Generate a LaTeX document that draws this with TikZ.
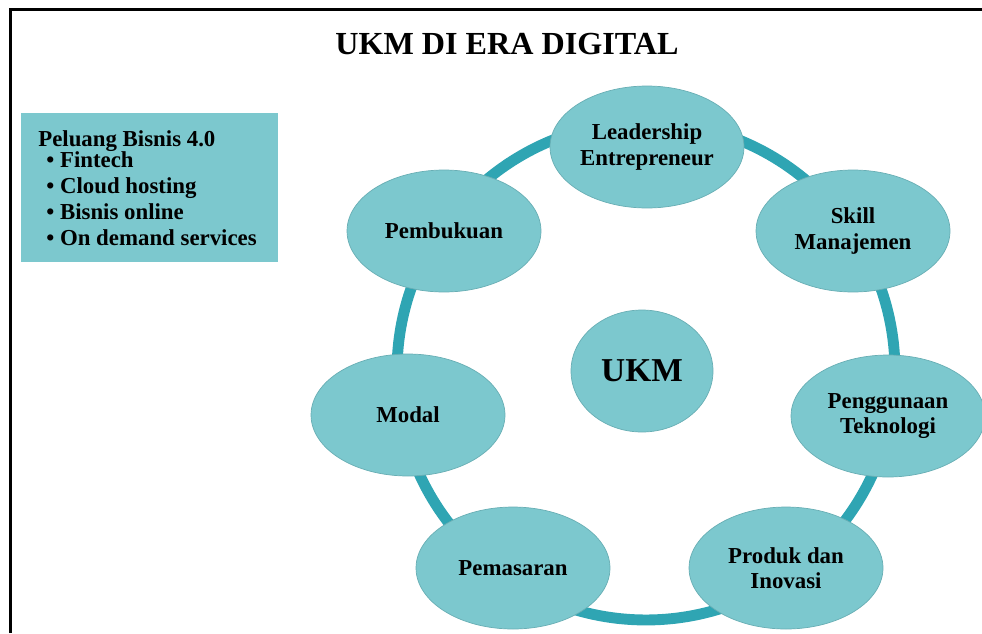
\documentclass[tikz,border=0pt]{standalone}
\usepackage{fontspec}
\setmainfont{Liberation Serif}
\usetikzlibrary{shapes.geometric}
\definecolor{ukmTeal}{HTML}{7CC8CE}
\definecolor{ukmRing}{HTML}{2FA5B3}
\definecolor{ukmEdge}{HTML}{68AEB4}
\tikzset{
  bubble/.style={ellipse, fill=ukmTeal, draw=ukmEdge, line width=0.4pt,
    minimum width=3.88cm, minimum height=2.44cm, inner sep=0pt, align=center,
    font=\fontsize{13}{14.4}\selectfont\bfseries},
  ring/.style={line width=6.2pt, ukmRing},
  frame/.style={line width=1.7pt, black},
  ttl/.style={font=\fontsize{18.3}{22}\selectfont\bfseries},
  lst/.style={anchor=base west, inner sep=0pt, font=\fontsize{13}{15}\selectfont\bfseries},
}

\begin{document}
\begin{tikzpicture}[x=0.02cm, y=-0.02cm]
  \useasboundingbox (0,0) rectangle (982,633);
  \draw[frame] (10.5,633) -- (10.5,9.5) -- (982,9.5);
  \node[ttl] (title) at (507,44) {UKM DI ERA DIGITAL};

  \node[fill=ukmTeal, minimum width=5.14cm, minimum height=2.98cm] (peluang) at (149.5,187.5) {};
  \node[lst] (head) at (38,146) {Peluang Bisnis 4.0};
  \foreach \txt/\yy [count=\i] in {Fintech/167, Cloud hosting/193, Bisnis online/219, On demand services/245}
    \node[lst] (opt\i) at (46,\yy) {\textbullet\ \txt};

  \coordinate (hub) at (646,371);
  \draw[ring] (hub) circle (4.98cm);

  \node[bubble, minimum width=2.84cm] (ukm) at (642,371) {\fontsize{19}{22}\selectfont UKM};
  \node[bubble] (lead)  at (647,147) {Leadership\\Entrepreneur};
  \node[bubble] (skill) at (853,231) {Skill\\Manajemen};
  \node[bubble] (tekno) at (888,416) {Penggunaan\\Teknologi};
  \node[bubble] (prod)  at (786,568) {Produk dan\\Inovasi};
  \node[bubble] (pasar) at (513,568) {Pemasaran};
  \node[bubble] (modal) at (408,415) {Modal};
  \node[bubble] (buku)  at (444,231) {Pembukuan};
\end{tikzpicture}
\end{document}
